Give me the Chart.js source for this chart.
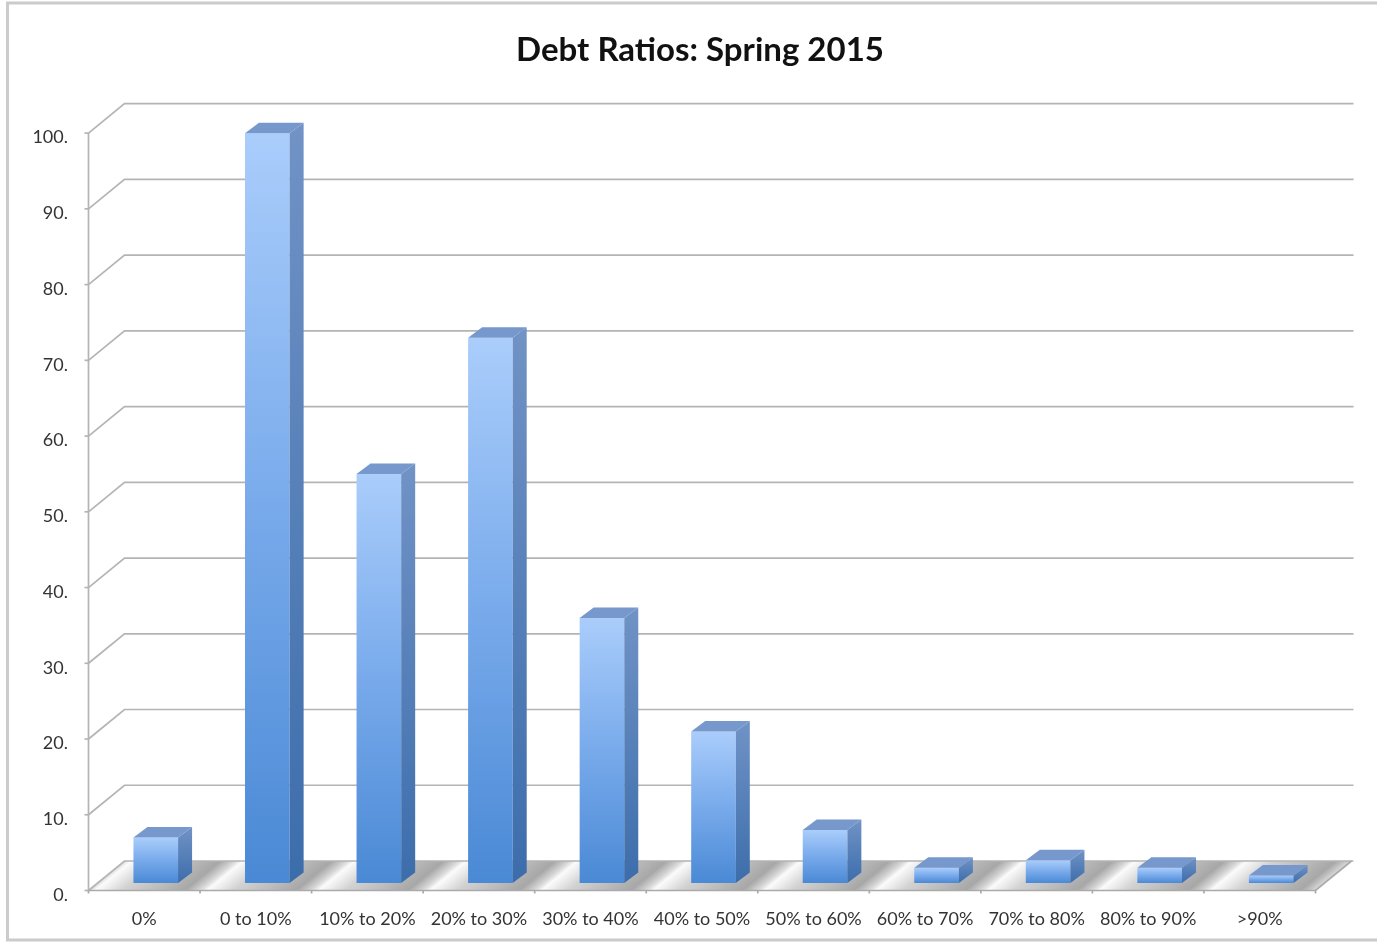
<!DOCTYPE html>
<html>
<head>
<meta charset="utf-8">
<title>Debt Ratios: Spring 2015</title>
<style>
  html, body { margin: 0; padding: 0; background: #ffffff; }
  canvas { display: block; }
</style>
<script src="https://cdn.jsdelivr.net/npm/chart.js@4.4.1/dist/chart.umd.min.js"></script>
</head>
<body>
<canvas id="chart" width="1377" height="942"></canvas>
<script>
// ---- data ----
const categories = ['0%', '0 to 10%', '10% to 20%', '20% to 30%', '30% to 40%', '40% to 50%',
                    '50% to 60%', '60% to 70%', '70% to 80%', '80% to 90%', '>90%'];
const counts = [6, 99, 54, 72, 35, 20, 7, 2, 3, 2, 1];
const yTickValues = [0, 10, 20, 30, 40, 50, 60, 70, 80, 90, 100];
const chartTitle = 'Debt Ratios: Spring 2015';

// ---- 3D look ----
// The bars' front faces sit a little behind the front plane of the box;
// FRONT moves a point from the bar plane to the front plane.
const FRONT = { dx: -11.5, dy: 7.5 };
// Full depth of the floor and walls.
const WALL = { dx: 36, dy: -29.5 };
// Depth of each bar.
const BAR_DEPTH = { dx: 14, dy: -10.5 };
const GRID = '#b4b4b4';
const FONT = 'Lato, "Open Sans", sans-serif';

function barFront(ctx) {
  const chart = ctx.chart;
  if (!chart.chartArea) return '#6ea4e8';
  const y = chart.scales.y;
  const top = y.getPixelForValue(ctx.raw);
  const bottom = y.getPixelForValue(0);
  const g = chart.ctx.createLinearGradient(0, top, 0, bottom + 0.01);
  g.addColorStop(0, '#aacdfb');
  g.addColorStop(0.5, '#78aaeb');
  g.addColorStop(1, '#4a89d5');
  return g;
}

const box3d = {
  id: 'box3d',
  beforeDraw(chart) {
    const { ctx, width } = chart;
    ctx.save();
    ctx.fillStyle = '#ffffff';
    ctx.fillRect(0, 0, chart.width, chart.height);
    ctx.strokeStyle = '#cbcbcb';
    ctx.lineWidth = 3;
    ctx.strokeRect(7.5, 3, width + 10, 937);
    ctx.restore();
  },
  beforeDatasetsDraw(chart) {
    const { ctx, chartArea, scales: { y } } = chart;
    const fx = px => px + FRONT.dx;
    const fy = py => py + FRONT.dy;
    const left = fx(chartArea.left);
    const right = fx(chartArea.right);
    const floorY = fy(y.getPixelForValue(0));
    const n = categories.length;
    const slot = (right - left) / n;

    ctx.save();
    // floor: one shaded strip per category, bands running along the depth
    const len = Math.hypot(WALL.dx, WALL.dy);
    const nx = -WALL.dy / len, ny = WALL.dx / len;
    const w = slot * nx;
    for (let i = 0; i < n; i++) {
      const x0 = left + slot * i;
      const g = ctx.createLinearGradient(x0, floorY, x0 + nx * w, floorY + ny * w);
      g.addColorStop(0.00, '#dadada');
      g.addColorStop(0.06, '#fbfbfb');
      g.addColorStop(0.14, '#eeeeee');
      g.addColorStop(0.30, '#d2d2d2');
      g.addColorStop(0.60, '#bcbcbc');
      g.addColorStop(0.86, '#a7a7a7');
      g.addColorStop(1.00, '#dadada');
      ctx.fillStyle = g;
      ctx.beginPath();
      ctx.moveTo(x0 - 0.3, floorY);
      ctx.lineTo(x0 + slot + 0.3, floorY);
      ctx.lineTo(x0 + slot + 0.3 + WALL.dx, floorY + WALL.dy);
      ctx.lineTo(x0 - 0.3 + WALL.dx, floorY + WALL.dy);
      ctx.closePath();
      ctx.fill();
    }

    // side wall and back wall grid lines, with ticks on the value axis
    ctx.lineWidth = 1.7;
    ctx.strokeStyle = GRID;
    yTickValues.forEach(v => {
      const py = fy(y.getPixelForValue(v));
      ctx.beginPath();
      ctx.moveTo(left, py);
      ctx.lineTo(left + WALL.dx, py + WALL.dy);
      ctx.lineTo(right + WALL.dx + 2, py + WALL.dy);
      ctx.stroke();
      ctx.beginPath();
      ctx.moveTo(left - 4, py);
      ctx.lineTo(left, py);
      ctx.stroke();
    });
    // value axis line
    ctx.beginPath();
    ctx.moveTo(left, fy(y.getPixelForValue(100)));
    ctx.lineTo(left, floorY);
    ctx.stroke();

    // floor front and right edges
    ctx.strokeStyle = '#aaaaaa';
    ctx.beginPath();
    ctx.moveTo(left, floorY);
    ctx.lineTo(right, floorY);
    ctx.lineTo(right + WALL.dx, floorY + WALL.dy);
    ctx.stroke();
    // category ticks along the front edge
    for (let i = 0; i <= n; i++) {
      const px = left + slot * i;
      ctx.beginPath();
      ctx.moveTo(px, floorY);
      ctx.lineTo(px, floorY + 3);
      ctx.stroke();
    }
    ctx.restore();
  },
  afterDatasetsDraw(chart) {
    const { ctx } = chart;
    const meta = chart.getDatasetMeta(0);
    const dx = BAR_DEPTH.dx, dy = BAR_DEPTH.dy;
    ctx.save();
    meta.data.forEach(bar => {
      const { x, y, base, width } = bar.getProps(['x', 'y', 'base', 'width'], true);
      const l = x - width / 2, r = x + width / 2;
      // right side face
      const gs = ctx.createLinearGradient(0, y + dy, 0, base);
      gs.addColorStop(0, '#7193c6');
      gs.addColorStop(1, '#3c6dab');
      ctx.fillStyle = gs;
      ctx.beginPath();
      ctx.moveTo(r, y);
      ctx.lineTo(r + dx, y + dy);
      ctx.lineTo(r + dx, base + dy);
      ctx.lineTo(r, base);
      ctx.closePath();
      ctx.fill();
      // top face
      ctx.fillStyle = '#7798cc';
      ctx.beginPath();
      ctx.moveTo(l, y);
      ctx.lineTo(r, y);
      ctx.lineTo(r + dx, y + dy);
      ctx.lineTo(l + dx, y + dy);
      ctx.closePath();
      ctx.fill();
    });
    ctx.restore();
  }
};

new Chart(document.getElementById('chart'), {
  type: 'bar',
  data: {
    labels: categories,
    datasets: [{
      data: counts,
      backgroundColor: barFront,
      borderWidth: 0,
      barPercentage: 0.4,
      categoryPercentage: 1.0
    }]
  },
  options: {
    responsive: false,
    animation: false,
    layout: { padding: { left: 23, right: 0, top: 0, bottom: 0 } },
    plugins: {
      legend: { display: false },
      tooltip: { enabled: false },
      title: {
        display: true,
        text: chartTitle,
        color: '#111111',
        font: { family: FONT, size: 33, weight: 'bold' },
        padding: { top: 31, bottom: 55 }
      }
    },
    scales: {
      x: {
        grid: { display: false, drawTicks: false },
        border: { display: false },
        ticks: {
          color: '#333333',
          font: { family: FONT, size: 18 },
          padding: 25,
          labelOffset: FRONT.dx,
          maxRotation: 0,
          autoSkip: false
        },
        afterFit(scale) { scale.height = 59; }
      },
      y: {
        min: 0,
        max: 100,
        grid: { display: false, drawTicks: false },
        border: { display: false },
        ticks: {
          stepSize: 10,
          color: '#333333',
          font: { family: FONT, size: 18 },
          padding: 32,
          labelOffset: 12,
          callback: v => v + '.'
        },
        afterFit(scale) { scale.width = 77; }
      },
      // empty right-hand margin strip that keeps the plot clear of the edge
      margin: {
        type: 'linear',
        position: 'right',
        display: true,
        grid: { display: false, drawTicks: false },
        border: { display: false },
        ticks: { display: false },
        afterFit(scale) { scale.width = 50; }
      }
    }
  },
  plugins: [box3d]
});
</script>
</body>
</html>
